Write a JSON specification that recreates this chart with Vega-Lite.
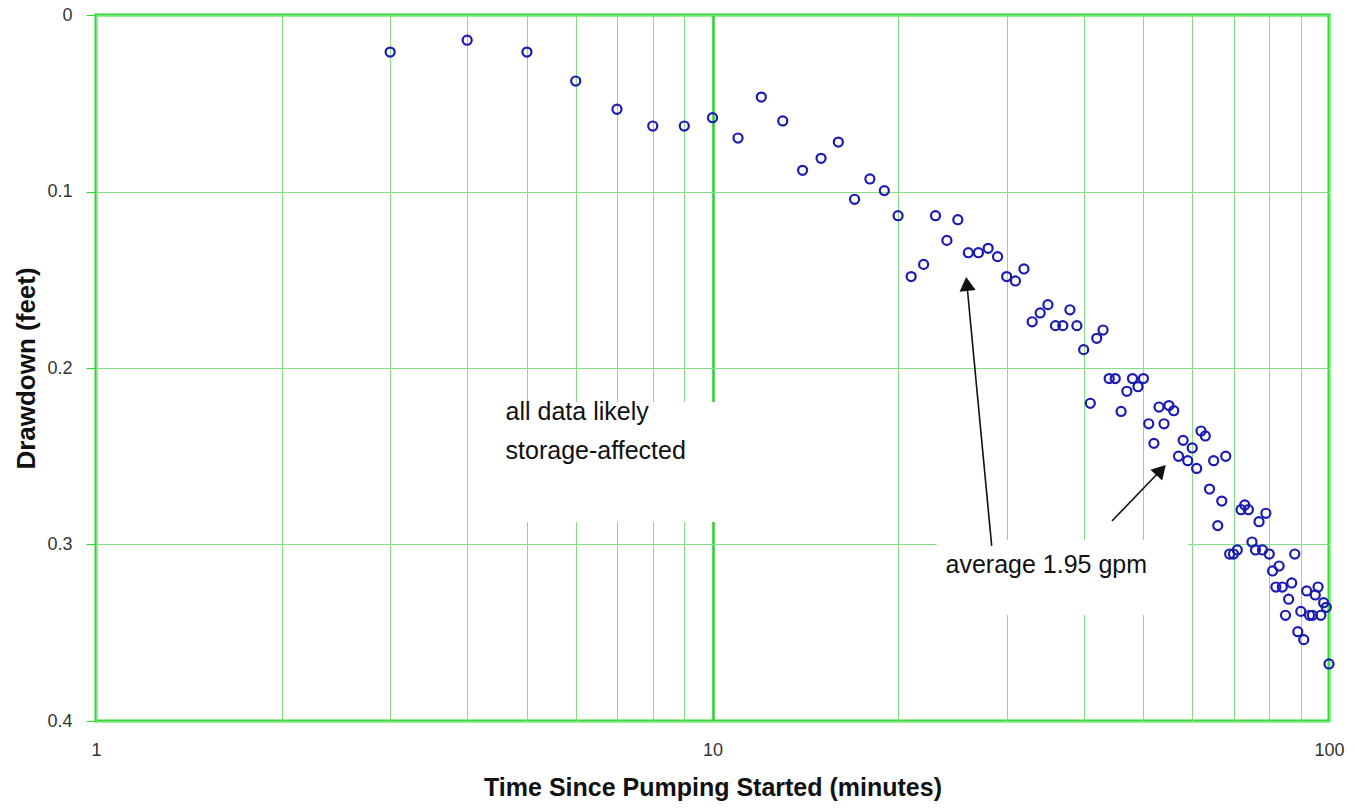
{
  "$schema": "https://vega.github.io/schema/vega-lite/v6.json",
  "autosize": "none",
  "width": 1233,
  "height": 706,
  "padding": {"left": 96, "top": 15, "right": 26, "bottom": 88},
  "background": "white",
  "config": {
    "view": {"stroke": "#2edc2e", "strokeWidth": 3},
    "font": "Liberation Sans"
  },
  "datasets": {
    "obs": [
      {"t": 3, "d": 0.021}, {"t": 4, "d": 0.0143}, {"t": 5, "d": 0.021}, {"t": 6, "d": 0.0374},
      {"t": 7, "d": 0.0534}, {"t": 8, "d": 0.0629}, {"t": 9, "d": 0.0629}, {"t": 10, "d": 0.0582},
      {"t": 11, "d": 0.0697}, {"t": 12, "d": 0.0465}, {"t": 13, "d": 0.060}, {"t": 14, "d": 0.088},
      {"t": 15, "d": 0.0812}, {"t": 16, "d": 0.072}, {"t": 17, "d": 0.1044}, {"t": 18, "d": 0.0929},
      {"t": 19, "d": 0.0995}, {"t": 20, "d": 0.1137}, {"t": 21, "d": 0.1482}, {"t": 22, "d": 0.1413},
      {"t": 23, "d": 0.1137}, {"t": 24, "d": 0.1277}, {"t": 25, "d": 0.116}, {"t": 26, "d": 0.1347},
      {"t": 27, "d": 0.1347}, {"t": 28, "d": 0.1322}, {"t": 29, "d": 0.1369}, {"t": 30, "d": 0.1482},
      {"t": 31, "d": 0.1507}, {"t": 32, "d": 0.1439}, {"t": 33, "d": 0.1738}, {"t": 34, "d": 0.1688},
      {"t": 35, "d": 0.1641}, {"t": 36, "d": 0.176}, {"t": 37, "d": 0.176}, {"t": 38, "d": 0.167},
      {"t": 39, "d": 0.176}, {"t": 40, "d": 0.1896}, {"t": 41, "d": 0.22}, {"t": 42, "d": 0.1832},
      {"t": 43, "d": 0.1785}, {"t": 44, "d": 0.206}, {"t": 45, "d": 0.206}, {"t": 46, "d": 0.2246},
      {"t": 47, "d": 0.2132}, {"t": 48, "d": 0.206}, {"t": 49, "d": 0.2106}, {"t": 50, "d": 0.206},
      {"t": 51, "d": 0.2316}, {"t": 52, "d": 0.2427}, {"t": 53, "d": 0.2221}, {"t": 54, "d": 0.2316},
      {"t": 55, "d": 0.2213}, {"t": 56, "d": 0.2242}, {"t": 57, "d": 0.25}, {"t": 58, "d": 0.241},
      {"t": 59, "d": 0.2525}, {"t": 60, "d": 0.2453}, {"t": 61, "d": 0.2569}, {"t": 62, "d": 0.2357},
      {"t": 63, "d": 0.2385}, {"t": 64, "d": 0.2686}, {"t": 65, "d": 0.2525}, {"t": 66, "d": 0.2893},
      {"t": 67, "d": 0.2754}, {"t": 68, "d": 0.25}, {"t": 69, "d": 0.3054}, {"t": 70, "d": 0.3054},
      {"t": 71, "d": 0.3031}, {"t": 72, "d": 0.2803}, {"t": 73, "d": 0.2776}, {"t": 74, "d": 0.2803},
      {"t": 75, "d": 0.2986}, {"t": 76, "d": 0.3031}, {"t": 77, "d": 0.2871}, {"t": 78, "d": 0.3031},
      {"t": 79, "d": 0.2823}, {"t": 80, "d": 0.3054}, {"t": 81, "d": 0.315}, {"t": 82, "d": 0.3241},
      {"t": 83, "d": 0.3122}, {"t": 84, "d": 0.3241}, {"t": 85, "d": 0.3401}, {"t": 86, "d": 0.331},
      {"t": 87, "d": 0.3218}, {"t": 88, "d": 0.3054}, {"t": 89, "d": 0.3494}, {"t": 90, "d": 0.3379},
      {"t": 91, "d": 0.3539}, {"t": 92, "d": 0.3263}, {"t": 93, "d": 0.3401}, {"t": 94, "d": 0.3401},
      {"t": 95, "d": 0.3286}, {"t": 96, "d": 0.3241}, {"t": 97, "d": 0.3401}, {"t": 98, "d": 0.333},
      {"t": 99, "d": 0.3356}, {"t": 100, "d": 0.3677}
    ],
    "boxes": [
      {"t": 4.2, "t2": 11.1, "d": 0.2193, "d2": 0.2873},
      {"t": 23.1, "t2": 59.1, "d": 0.2975, "d2": 0.34}
    ],
    "arrows": [
      {"t": 28.37, "d": 0.3008, "t2": 25.86, "d2": 0.1524},
      {"t": 44.46, "d": 0.2867, "t2": 53.4, "d2": 0.2578}
    ],
    "head1": [{"t": 25.86, "d": 0.1524}],
    "head2": [{"t": 53.4, "d": 0.2578}],
    "notes": [
      {"t": 4.617, "d": 0.2249, "label": "all data likely"},
      {"t": 4.617, "d": 0.247, "label": "storage-affected"},
      {"t": 23.88, "d": 0.3116, "label": "average 1.95 gpm"}
    ]
  },
  "encoding": {
    "x": {
      "field": "t", "type": "quantitative",
      "scale": {"type": "log", "domain": [1, 100], "nice": false},
      "axis": {
        "values": [1, 2, 3, 4, 5, 6, 7, 8, 9, 10, 20, 30, 40, 50, 60, 70, 80, 90, 100],
        "labelExpr": "datum.value == 1 || datum.value == 10 || datum.value == 100 ? format(datum.value, 'd') : ''",
        "labelOverlap": false,
        "labelFlush": false,
        "ticks": false,
        "domain": false,
        "grid": true,
        "gridColor": {"condition": {"test": "datum.value == 10", "value": "#2ecc2e"}, "value": "#84e084"},
        "gridWidth": {"condition": {"test": "datum.value == 10", "value": 2.5}, "value": 1},
        "labelFont": "Liberation Sans",
        "labelFontSize": 18,
        "labelColor": "#333333",
        "labelPadding": 20,
        "title": "Time Since Pumping Started (minutes)",
        "titleFont": "Liberation Sans",
        "titleFontSize": 25,
        "titleFontWeight": "bold",
        "titleColor": "#111111",
        "titlePadding": 16
      }
    },
    "y": {
      "field": "d", "type": "quantitative",
      "scale": {"domain": [0, 0.4], "nice": false, "reverse": true},
      "axis": {
        "values": [0, 0.1, 0.2, 0.3, 0.4],
        "labelExpr": "datum.value == 0 ? '0' : format(datum.value, '.1f')",
        "domain": false,
        "grid": true,
        "gridColor": "#84e084",
        "gridWidth": 1,
        "ticks": true,
        "tickSize": 10,
        "tickColor": "#2edc2e",
        "labelFont": "Liberation Sans",
        "labelFontSize": 18,
        "labelColor": "#333333",
        "labelPadding": 14,
        "labelFlush": false,
        "title": "Drawdown (feet)",
        "titleFont": "Liberation Sans",
        "titleFontSize": 26,
        "titleFontWeight": "bold",
        "titleColor": "#111111",
        "titlePadding": 7
      }
    }
  },
  "layer": [
    {
      "data": {"name": "boxes"},
      "mark": {"type": "rect", "fill": "white", "stroke": null},
      "encoding": {"x2": {"field": "t2"}, "y2": {"field": "d2"}}
    },
    {
      "data": {"name": "arrows"},
      "mark": {"type": "rule", "color": "#111111", "strokeWidth": 1.6},
      "encoding": {"x2": {"field": "t2"}, "y2": {"field": "d2"}}
    },
    {
      "data": {"name": "head1"},
      "mark": {"type": "point", "shape": "triangle-up", "filled": true, "color": "#111111", "size": 260, "angle": 354, "opacity": 1}
    },
    {
      "data": {"name": "head2"},
      "mark": {"type": "point", "shape": "triangle-up", "filled": true, "color": "#111111", "size": 260, "angle": 43, "opacity": 1}
    },
    {
      "data": {"name": "notes"},
      "mark": {"type": "text", "align": "left", "baseline": "middle", "font": "Liberation Sans", "fontSize": 25, "color": "#111111"},
      "encoding": {"text": {"field": "label"}}
    },
    {
      "data": {"name": "obs"},
      "mark": {"type": "point", "filled": false, "color": "#1a1ab4", "strokeWidth": 2.2, "size": 82, "opacity": 1}
    }
  ]
}
